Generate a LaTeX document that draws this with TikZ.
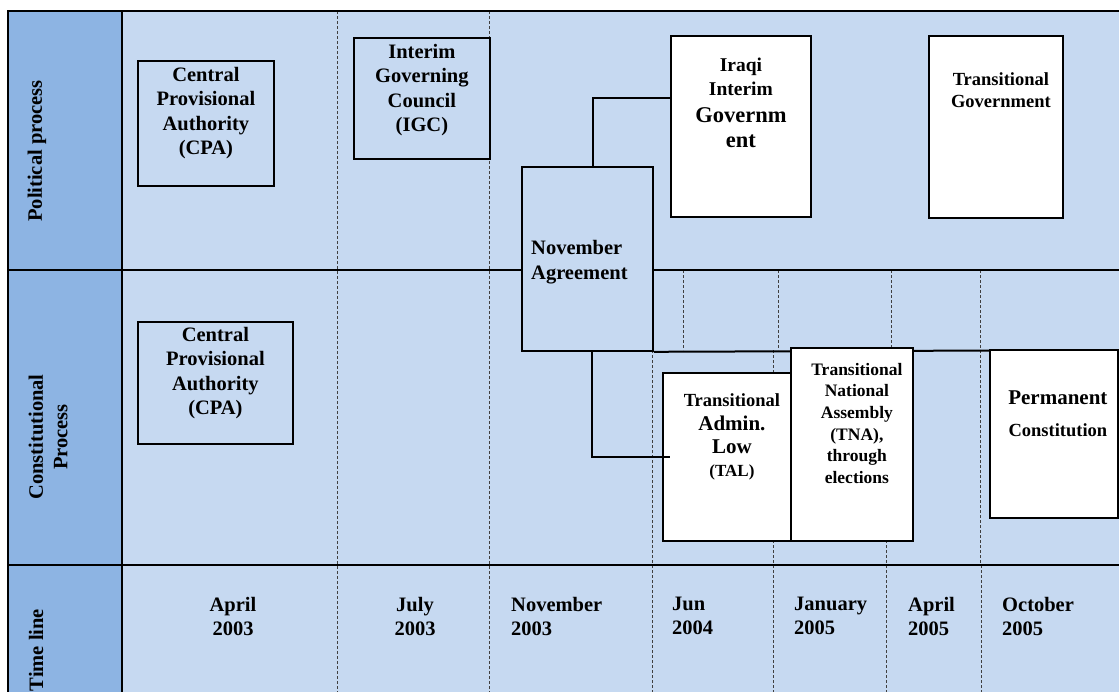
\documentclass[tikz,border=0pt]{standalone}
\usepackage{fontspec}
\setmainfont{Liberation Serif}
\usepackage{tikz}
\usetikzlibrary{positioning}
\definecolor{cellBlue}{RGB}{198, 217, 241}
\definecolor{headBlue}{RGB}{141, 180, 227}

\begin{document}
\begin{tikzpicture}[
    x=1pt, y=-1pt,
    cellbox/.style={rectangle, draw=black, line width=1.8pt, fill=cellBlue, inner sep=0pt, anchor=north west},
    whitebox/.style={cellbox, fill=white},
    boxtext/.style={align=center, inner sep=0pt, anchor=north, font=\fontsize{20.5}{24.5}\selectfont\bfseries},
    smalltext/.style={boxtext, font=\fontsize{18.5}{21.5}\selectfont\bfseries},
    rowlabel/.style={rotate=90, align=center, inner sep=0pt, font=\fontsize{20.5}{24.5}\selectfont\bfseries},
    datetext/.style={align=center, inner sep=0pt, anchor=north, font=\fontsize{20.5}{24}\selectfont\bfseries},
    gridline/.style={line width=2pt},
    dashline/.style={dashed, dash pattern=on 3pt off 2pt, line width=0.8pt, black!75},
    link/.style={line width=1.6pt}
  ]
  \useasboundingbox (0,0) rectangle (1119,691);
  \clip (0,0) rectangle (1119,691);

  % Background
  \fill[cellBlue] (8,11) rectangle (1130,700);
  \fill[headBlue] (8,11) rectangle (122,700);

  % Dashed time columns
  \foreach \x in {337, 489}
    \draw[dashline] (\x,11) -- (\x,700);
  \foreach \x in {683, 778, 891, 980}
    \draw[dashline] (\x,270) -- (\x,350);
  \foreach \x in {652, 773, 886, 980}
    \draw[dashline] (\x,350) -- (\x,565);
  \foreach \x in {652, 773, 886, 981}
    \draw[dashline] (\x,565) -- (\x,700);

  % Table rules
  \draw[gridline] (1130,11) -- (8,11) -- (8,700);
  \draw[gridline] (122,11) -- (122,700);
  \draw[gridline] (8,270) -- (1130,270);
  \draw[gridline] (8,565) -- (1130,565);

  % Row headers
  \node[rowlabel] (polLabel) at (37,151) {Political process};
  \node[rowlabel] (conLabel) at (48,437) {Constitutional\\Process};
  \node[rowlabel] (timeLabel) at (36,650) {Time line};

  % Political process
  \node[cellbox, minimum width=136, minimum height=125] (cpaPol) at (137,60) {};
  \node[boxtext, yshift=-7pt] (cpaPolText) at (cpaPol.north) {Central\\Provisional\\Authority\\(CPA)};
  \node[cellbox, minimum width=136, minimum height=121] (igc) at (353,37) {};
  \node[boxtext, yshift=-7pt] (igcText) at (igc.north) {Interim\\Governing\\Council\\(IGC)};
  \node[whitebox, minimum width=140, minimum height=181] (iig) at (670,35) {};
  \node[boxtext, font=\fontsize{19.5}{24}\selectfont\bfseries, yshift=-23pt] (iigText) at (iig.north)
    {Iraqi\\Interim\\[3pt]{\fontsize{22.5}{26}\selectfont Governm}\\[1pt]{\fontsize{22.5}{26}\selectfont ent}};
  \node[whitebox, minimum width=134, minimum height=182] (tg) at (928,35) {};
  \node[smalltext, xshift=5pt, yshift=-37.5pt] (tgText) at (tg.north) {Transitional\\Government};

  % November agreement spans both rows
  \node[cellbox, minimum width=131, minimum height=184] (nov) at (521,166) {};
  \node[boxtext, anchor=west, align=left, xshift=10pt, yshift=-3pt] (novText) at (nov.west) {November\\Agreement};
  \draw[gridline] (nov.south east) -- (1130,350);

  % Constitutional process
  \node[cellbox, minimum width=155, minimum height=122] (cpaCon) at (137,321) {};
  \node[boxtext, yshift=-6pt] (cpaConText) at (cpaCon.north) {Central\\Provisional\\Authority\\(CPA)};
  \node[whitebox, minimum width=128, minimum height=168] (tal) at (662,372) {};
  \node[smalltext, xshift=5pt, yshift=-21pt] (talText) at (tal.north)
    {Transitional\\[2.5pt]{\fontsize{21}{24}\selectfont Admin.}\\[1.5pt]{\fontsize{21}{24}\selectfont Low}\\[2pt]{\fontsize{17}{20}\selectfont (TAL)}};
  \node[whitebox, minimum width=122, minimum height=193] (tna) at (790,347) {};
  \node[boxtext, font=\fontsize{17.5}{21.6}\selectfont\bfseries, xshift=5pt, yshift=-16pt] (tnaText) at (tna.north)
    {Transitional\\National\\Assembly\\(TNA),\\through\\elections};
  \node[whitebox, minimum width=128, minimum height=168] (perm) at (989,349) {};
  \node[smalltext, xshift=4pt, yshift=-41.5pt] (permText) at (perm.north)
    {{\fontsize{21}{25}\selectfont Permanent}\\[11pt]Constitution};

  \draw[link] ([xshift=5.5pt]nov.north) |- ([yshift=28.5pt]iig.west);
  \draw[link] ([xshift=4.5pt]nov.south) |- ([xshift=8pt]tal.west);

  % Time line
  \node[datetext] (apr03) at (233,597) {April\\2003};
  \node[datetext] (jul03) at (415,597) {July\\2003};
  \node[datetext, anchor=north west, align=left] (nov03) at (511,597) {November\\2003};
  \node[datetext, anchor=north west, align=left] (jun04) at (672,597) {Jun\\2004};
  \node[datetext, anchor=north west, align=left] (jan05) at (794,597) {January\\2005};
  \node[datetext, anchor=north west, align=left] (apr05) at (908,597) {April\\2005};
  \node[datetext, anchor=north west, align=left] (oct05) at (1002,597) {October\\2005};
\end{tikzpicture}
\end{document}
